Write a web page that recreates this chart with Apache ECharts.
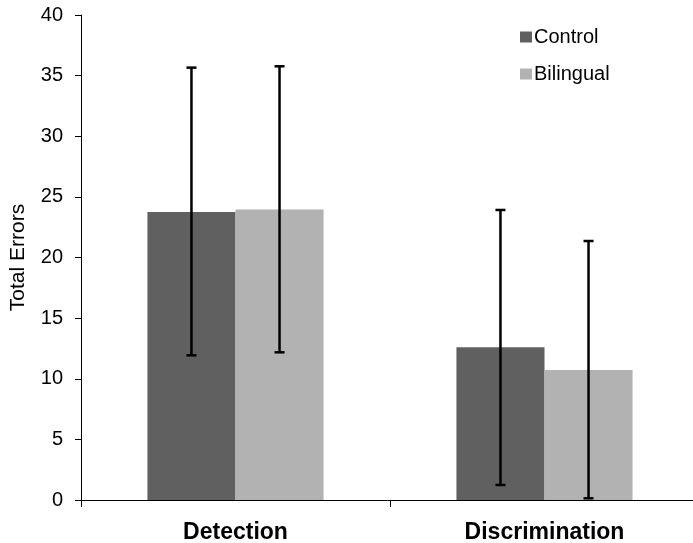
<!DOCTYPE html>
<html>
<head>
<meta charset="utf-8">
<script src="https://cdn.jsdelivr.net/npm/echarts@6/dist/echarts.min.js"></script>
<style>
  html, body { margin: 0; padding: 0; background: #fff; }
  #chart { width: 693px; height: 543px; }
</style>
</head>
<body>
<div id="chart"></div>
<script>
// Task categories and group means
const categories = ['Detection', 'Discrimination'];
const controlMean = [23.75, 12.6];
const bilingualMean = [23.95, 10.72];
// Error bar ends (lower, upper) for each group
const controlLow = [11.93, 1.24];
const controlHigh = [35.66, 23.92];
const bilingualLow = [12.18, 0.14];
const bilingualHigh = [35.77, 21.36];
// Value axis ticks
const yMin = 0, yMax = 40, yStep = 5;

const FONT = '"Liberation Sans", Arial, sans-serif';
const BAR_SHARE = 0.57; // fraction of a category band covered by the pair of bars

function errorSeries(name, low, high, side) {
  return {
    type: 'custom',
    name: name + ' error',
    z: 5,
    silent: true,
    data: categories.map((c, i) => [i, low[i], high[i]]),
    renderItem: function (params, api) {
      const idx = api.value(0);
      const band = api.size([1, 0])[0];
      const barW = band * BAR_SHARE / 2;
      const lo = api.coord([idx, api.value(1)]);
      const hi = api.coord([idx, api.value(2)]);
      const x = lo[0] + side * barW / 2;
      const cap = 5;
      const style = { stroke: '#000', lineWidth: 2.5 };
      return {
        type: 'group',
        children: [
          { type: 'line', shape: { x1: x, y1: lo[1], x2: x, y2: hi[1] }, style },
          { type: 'line', shape: { x1: x - cap, y1: lo[1], x2: x + cap, y2: lo[1] }, style },
          { type: 'line', shape: { x1: x - cap, y1: hi[1], x2: x + cap, y2: hi[1] }, style }
        ]
      };
    }
  };
}

const chart = echarts.init(document.getElementById('chart'), null, { renderer: 'canvas' });
chart.setOption({
  animation: false,
  backgroundColor: '#fff',
  textStyle: { fontFamily: FONT },
  grid: { left: 81, right: -6, top: 15, bottom: 43, containLabel: false, outerBoundsMode: 'none' },
  legend: {
    orient: 'vertical',
    left: 515,
    top: 22,
    icon: 'rect',
    itemWidth: 12,
    itemHeight: 11,
    itemGap: 17,
    textStyle: { fontFamily: FONT, fontSize: 20, color: '#000', padding: [0, 0, 0, -3] },
    data: ['Control', 'Bilingual']
  },
  xAxis: {
    type: 'category',
    data: categories,
    axisLine: { lineStyle: { color: '#000', width: 1 } },
    axisTick: { show: true, length: 7, lineStyle: { color: '#000' } },
    axisLabel: { color: '#000', fontFamily: FONT, fontSize: 23, fontWeight: 'bold', margin: 21 },
    splitLine: { show: false }
  },
  yAxis: {
    type: 'value',
    min: yMin,
    max: yMax,
    interval: yStep,
    name: 'Total Errors',
    nameLocation: 'middle',
    nameGap: 52,
    nameTextStyle: { color: '#000', fontFamily: FONT, fontSize: 21 },
    axisLine: { show: true, lineStyle: { color: '#000', width: 1 } },
    axisTick: { show: true, length: 6, lineStyle: { color: '#000' } },
    axisLabel: { color: '#000', fontFamily: FONT, fontSize: 20, margin: 18 },
    splitLine: { show: false }
  },
  series: [
    {
      name: 'Control',
      type: 'bar',
      data: controlMean,
      barGap: '0%',
      barCategoryGap: ((1 - BAR_SHARE) * 100) + '%',
      itemStyle: { color: '#606060' }
    },
    {
      name: 'Bilingual',
      type: 'bar',
      data: bilingualMean,
      barGap: '0%',
      barCategoryGap: ((1 - BAR_SHARE) * 100) + '%',
      itemStyle: { color: '#b2b2b2' }
    },
    errorSeries('Control', controlLow, controlHigh, -1),
    errorSeries('Bilingual', bilingualLow, bilingualHigh, 1)
  ]
});
</script>
</body>
</html>
